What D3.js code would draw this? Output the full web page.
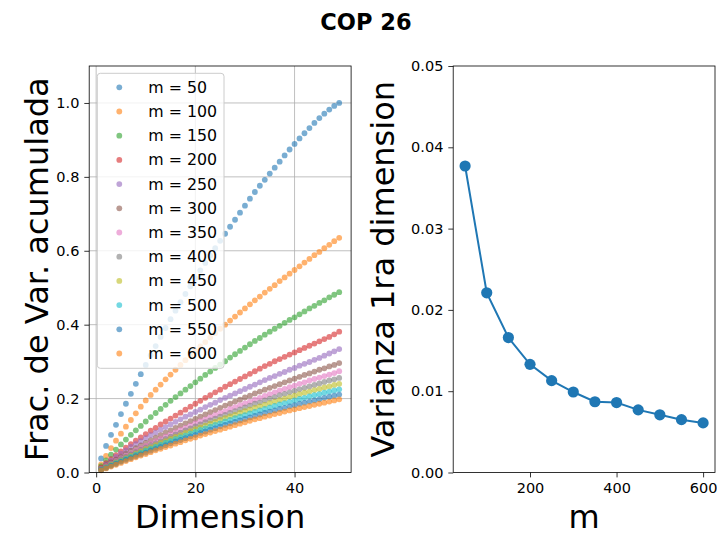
<!DOCTYPE html>
<html>
<head>
<meta charset="utf-8">
<script src="https://cdn.jsdelivr.net/npm/d3@7"></script>
<style>
  body { margin: 0; background: #fff; }
  svg { display: block; font-family: "DejaVu Sans", sans-serif; }
</style>
</head>
<body>
<svg id="fig" width="717" height="533"></svg>
<script>
// Sample sizes and the variance carried by the first dimension
const mValues = [50, 100, 150, 200, 250, 300, 350, 400, 450, 500, 550, 600];
const firstDimVariance = [0.0377, 0.0221, 0.0166, 0.0133, 0.0113, 0.0099, 0.0087, 0.0086, 0.0077, 0.0071, 0.0065, 0.0061];

// Cumulative fraction of variance per dimension (1..49), one array per m
const cum50 = [0.038,0.072,0.102,0.129,0.158,0.186,0.213,0.240,0.266,0.291,0.317,0.342,0.367,0.391,0.415,0.438,0.461,0.483,0.504,0.526,0.547,0.567,0.587,0.607,0.627,0.646,0.665,0.684,0.703,0.722,0.741,0.759,0.776,0.792,0.809,0.825,0.841,0.858,0.874,0.889,0.904,0.918,0.932,0.946,0.959,0.971,0.982,0.992,1.000];
const cum100 = [0.022,0.045,0.066,0.086,0.105,0.124,0.142,0.160,0.178,0.195,0.210,0.224,0.238,0.252,0.265,0.278,0.291,0.304,0.317,0.329,0.341,0.353,0.365,0.377,0.389,0.400,0.411,0.422,0.433,0.444,0.455,0.466,0.476,0.487,0.497,0.507,0.518,0.528,0.538,0.548,0.558,0.568,0.578,0.588,0.597,0.607,0.616,0.626,0.635];
const cum150 = [0.017,0.033,0.048,0.062,0.076,0.089,0.102,0.114,0.126,0.138,0.150,0.161,0.172,0.183,0.194,0.204,0.214,0.224,0.234,0.244,0.254,0.264,0.273,0.283,0.292,0.301,0.311,0.320,0.329,0.338,0.347,0.356,0.364,0.373,0.381,0.389,0.397,0.405,0.413,0.420,0.428,0.436,0.444,0.451,0.459,0.466,0.474,0.481,0.488];
const cum200 = [0.013,0.025,0.036,0.047,0.057,0.067,0.077,0.086,0.095,0.104,0.113,0.121,0.130,0.138,0.146,0.154,0.162,0.170,0.178,0.186,0.194,0.202,0.209,0.217,0.224,0.232,0.239,0.246,0.253,0.260,0.267,0.274,0.281,0.288,0.294,0.301,0.307,0.313,0.319,0.325,0.331,0.337,0.343,0.349,0.355,0.361,0.367,0.374,0.381];
const cum250 = [0.011,0.022,0.032,0.042,0.051,0.060,0.069,0.077,0.085,0.093,0.101,0.108,0.116,0.123,0.130,0.137,0.144,0.151,0.157,0.164,0.170,0.177,0.183,0.189,0.196,0.202,0.208,0.214,0.220,0.226,0.232,0.238,0.244,0.250,0.256,0.261,0.267,0.272,0.278,0.283,0.289,0.294,0.299,0.305,0.310,0.316,0.322,0.328,0.334];
const cum300 = [0.010,0.019,0.027,0.035,0.043,0.051,0.059,0.066,0.073,0.080,0.087,0.094,0.101,0.108,0.114,0.121,0.127,0.133,0.139,0.145,0.151,0.157,0.163,0.169,0.175,0.181,0.186,0.192,0.197,0.203,0.208,0.214,0.219,0.224,0.229,0.234,0.239,0.244,0.249,0.254,0.259,0.264,0.268,0.273,0.278,0.282,0.287,0.291,0.296];
const cum350 = [0.009,0.017,0.024,0.031,0.038,0.045,0.052,0.059,0.066,0.072,0.079,0.085,0.091,0.097,0.103,0.109,0.115,0.121,0.127,0.133,0.139,0.144,0.150,0.155,0.161,0.166,0.172,0.177,0.182,0.187,0.192,0.197,0.202,0.207,0.212,0.217,0.222,0.226,0.231,0.235,0.240,0.244,0.249,0.253,0.257,0.261,0.265,0.269,0.274];
const cum400 = [0.009,0.016,0.023,0.029,0.036,0.042,0.049,0.055,0.061,0.067,0.073,0.079,0.085,0.091,0.097,0.103,0.108,0.114,0.119,0.125,0.130,0.136,0.141,0.146,0.151,0.156,0.161,0.166,0.171,0.176,0.181,0.186,0.190,0.195,0.200,0.204,0.209,0.213,0.217,0.221,0.225,0.229,0.233,0.237,0.241,0.245,0.249,0.252,0.256];
const cum450 = [0.008,0.014,0.021,0.027,0.033,0.039,0.045,0.051,0.057,0.063,0.068,0.074,0.080,0.085,0.091,0.096,0.101,0.107,0.112,0.117,0.122,0.127,0.132,0.137,0.142,0.147,0.152,0.156,0.161,0.166,0.170,0.175,0.179,0.183,0.188,0.192,0.196,0.200,0.204,0.208,0.212,0.216,0.219,0.223,0.226,0.230,0.233,0.237,0.240];
const cum500 = [0.007,0.013,0.019,0.025,0.031,0.037,0.042,0.048,0.053,0.059,0.064,0.069,0.075,0.080,0.085,0.090,0.095,0.100,0.105,0.110,0.115,0.119,0.124,0.129,0.133,0.138,0.142,0.147,0.151,0.155,0.160,0.164,0.168,0.172,0.176,0.180,0.184,0.188,0.191,0.195,0.199,0.202,0.206,0.209,0.212,0.216,0.219,0.222,0.225];
const cum550 = [0.007,0.012,0.018,0.023,0.029,0.034,0.039,0.044,0.049,0.054,0.059,0.064,0.069,0.074,0.079,0.084,0.088,0.093,0.098,0.102,0.107,0.111,0.116,0.120,0.125,0.129,0.133,0.137,0.141,0.145,0.149,0.153,0.157,0.161,0.165,0.168,0.172,0.175,0.179,0.182,0.186,0.189,0.192,0.195,0.198,0.202,0.205,0.208,0.211];
const cum600 = [0.006,0.011,0.016,0.021,0.026,0.031,0.036,0.041,0.046,0.050,0.055,0.060,0.064,0.069,0.073,0.078,0.082,0.087,0.091,0.095,0.100,0.104,0.108,0.112,0.116,0.120,0.124,0.128,0.132,0.136,0.140,0.144,0.147,0.151,0.154,0.158,0.161,0.165,0.168,0.171,0.174,0.177,0.180,0.183,0.186,0.189,0.192,0.195,0.198];

const cumSeries = [cum50, cum100, cum150, cum200, cum250, cum300, cum350, cum400, cum450, cum500, cum550, cum600];
const dims = d3.range(1, cum50.length + 1);

const leftXTicks = [0, 20, 40];
const leftYTicks = [0.0, 0.2, 0.4, 0.6, 0.8, 1.0];
const rightXTicks = [200, 400, 600];
const rightYTicks = [0.00, 0.01, 0.02, 0.03, 0.04, 0.05];

const tab10 = ["#1f77b4","#ff7f0e","#2ca02c","#d62728","#9467bd","#8c564b","#e377c2","#7f7f7f","#bcbd22","#17becf"];
const colorOf = i => tab10[i % tab10.length];

const svg = d3.select("#fig");
const plotTop = 66, plotBottom = 472.5;
const tickFont = 14.5, labelFont = 32;

svg.append("text")
  .attr("x", 366).attr("y", 30)
  .attr("text-anchor", "middle")
  .attr("font-weight", "bold").attr("font-size", 22.5)
  .text("COP 26");

// ---------- Left panel: cumulative variance fraction ----------
const xL = d3.scaleLinear().domain([-1.4, 51.4]).range([89.2, 351.1]);
const yL = d3.scaleLinear().domain([0, 1.1]).range([plotBottom, plotTop]);

const gL = svg.append("g");
// grid
gL.append("g").selectAll("line").data(leftXTicks).join("line")
  .attr("x1", d => xL(d)).attr("x2", d => xL(d))
  .attr("y1", plotTop).attr("y2", plotBottom)
  .attr("stroke", "#b0b0b0").attr("stroke-width", 0.8);
gL.append("g").selectAll("line").data(leftYTicks).join("line")
  .attr("y1", d => yL(d)).attr("y2", d => yL(d))
  .attr("x1", xL.range()[0]).attr("x2", xL.range()[1])
  .attr("stroke", "#b0b0b0").attr("stroke-width", 0.8);

cumSeries.forEach((vals, i) => {
  gL.append("g").selectAll("circle").data(vals).join("circle")
    .attr("cx", (d, j) => xL(dims[j]))
    .attr("cy", d => yL(d))
    .attr("r", 2.9)
    .attr("fill", colorOf(i))
    .attr("fill-opacity", 0.6);
});

function styleAxis(g) {
  g.selectAll(".domain").remove();
  g.selectAll(".tick line").attr("stroke", "#000").attr("stroke-width", 0.8);
  g.selectAll(".tick text").attr("font-size", tickFont).attr("fill", "#000")
    .attr("font-family", "DejaVu Sans");
}

gL.append("g").attr("transform", `translate(0,${plotBottom})`)
  .call(d3.axisBottom(xL).tickValues(leftXTicks).tickFormat(d3.format("d")).tickSizeOuter(0).tickSize(4.9).tickPadding(4.9))
  .call(styleAxis);
gL.append("g").attr("transform", `translate(${xL.range()[0]},0)`)
  .call(d3.axisLeft(yL).tickValues(leftYTicks).tickFormat(d3.format(".1f")).tickSizeOuter(0).tickSize(4.9).tickPadding(4.9))
  .call(styleAxis);

gL.append("rect")
  .attr("x", xL.range()[0]).attr("y", plotTop)
  .attr("width", xL.range()[1] - xL.range()[0]).attr("height", plotBottom - plotTop)
  .attr("fill", "none").attr("stroke", "#000").attr("stroke-width", 0.8);

// legend
const leg = gL.append("g");
leg.append("rect")
  .attr("x", 97.3).attr("y", 73.3).attr("width", 126.7).attr("height", 295)
  .attr("rx", 3).attr("fill", "#fff").attr("fill-opacity", 0.8)
  .attr("stroke", "#cccccc").attr("stroke-width", 1);
mValues.forEach((m, i) => {
  const yy = 87.3 + i * 24.2;
  leg.append("circle").attr("cx", 119.3).attr("cy", yy).attr("r", 2.9)
    .attr("fill", colorOf(i)).attr("fill-opacity", 0.6);
  leg.append("text").attr("x", 148.3).attr("y", yy).attr("dy", "0.35em")
    .attr("font-size", 15.8).attr("fill", "#000").text(`m = ${m}`);
});

svg.append("text")
  .attr("transform", `translate(48,${(plotTop + plotBottom) / 2}) rotate(-90)`)
  .attr("text-anchor", "middle").attr("font-size", labelFont)
  .text("Frac. de Var. acumulada");
svg.append("text")
  .attr("x", (xL.range()[0] + xL.range()[1]) / 2).attr("y", 528)
  .attr("text-anchor", "middle").attr("font-size", labelFont)
  .text("Dimension");

// ---------- Right panel: first-dimension variance vs m ----------
const xR = d3.scaleLinear().domain([22.5, 627.5]).range([453.2, 715]);
const yR = d3.scaleLinear().domain([0, 0.05]).range([plotBottom, plotTop]);
const gR = svg.append("g");

gR.append("path").datum(mValues)
  .attr("d", d3.line().x(d => xR(d)).y((d, i) => yR(firstDimVariance[i])))
  .attr("fill", "none").attr("stroke", "#1f77b4").attr("stroke-width", 2);
gR.append("g").selectAll("circle").data(mValues).join("circle")
  .attr("cx", d => xR(d)).attr("cy", (d, i) => yR(firstDimVariance[i]))
  .attr("r", 5.6).attr("fill", "#1f77b4");

gR.append("g").attr("transform", `translate(0,${plotBottom})`)
  .call(d3.axisBottom(xR).tickValues(rightXTicks).tickFormat(d3.format("d")).tickSizeOuter(0).tickSize(4.9).tickPadding(4.9))
  .call(styleAxis);
gR.append("g").attr("transform", `translate(${xR.range()[0]},0)`)
  .call(d3.axisLeft(yR).tickValues(rightYTicks).tickFormat(d3.format(".2f")).tickSizeOuter(0).tickSize(4.9).tickPadding(4.9))
  .call(styleAxis);
gR.append("rect")
  .attr("x", xR.range()[0]).attr("y", plotTop)
  .attr("width", xR.range()[1] - xR.range()[0]).attr("height", plotBottom - plotTop)
  .attr("fill", "none").attr("stroke", "#000").attr("stroke-width", 0.8);

svg.append("text")
  .attr("transform", `translate(394,${(plotTop + plotBottom) / 2}) rotate(-90)`)
  .attr("text-anchor", "middle").attr("font-size", labelFont)
  .text("Varianza 1ra dimension");
svg.append("text")
  .attr("x", (xR.range()[0] + xR.range()[1]) / 2).attr("y", 528)
  .attr("text-anchor", "middle").attr("font-size", labelFont)
  .text("m");
</script>
</body>
</html>
